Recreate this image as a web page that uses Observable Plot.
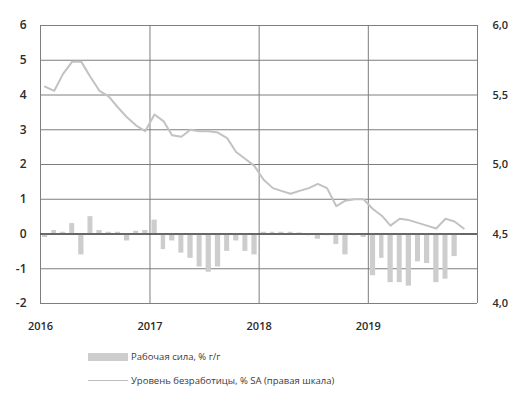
<!DOCTYPE html>
<html><head><meta charset="utf-8">
<script src="https://cdn.jsdelivr.net/npm/d3@7"></script>
<script src="https://cdn.jsdelivr.net/npm/@observablehq/plot@0.6"></script>
<style>
body{margin:0;background:#fff;font-family:"Open Sans",sans-serif;}
#chart svg{display:block;}
.leg{position:relative;height:63px;font-size:9.5px;color:#3a3a3a;}
.row{position:absolute;left:88px;display:flex;align-items:center;}
.sw{width:40px;margin-right:3px;}
</style></head><body>
<div id="chart"></div>
<div class="leg">
  <div class="row" style="top:10px;"><div class="sw" style="height:8px;background:#cdcdcd;"></div><span id="l1"></span></div>
  <div class="row" style="top:34px;"><div class="sw" style="height:1.5px;background:#bdbdbd;"></div><span id="l2"></span></div>
</div>
<script>
// Monthly, Jan 2016 .. Dec 2019
const startMonth = "2016-01-01";
const endMonth = "2020-01-01";
const seriesNames = ["Рабочая сила, % г/г", "Уровень безработицы, % SA (правая шкала)"];

// Labour force, % y/y (left axis)
const laborForce = [
  -0.1, 0.1, 0.05, 0.3, -0.6, 0.5, 0.1, 0.05, 0.05, -0.2, 0.08, 0.1,
  0.4, -0.45, -0.2, -0.55, -0.7, -0.95, -1.1, -0.95, -0.5, -0.2, -0.5, -0.6,
  0.05, 0.05, 0.05, 0.05, 0.03, -0.05, -0.15, -0.05, -0.3, -0.6, -0.05, -0.1,
  -1.2, -0.7, -1.4, -1.4, -1.5, -0.8, -0.85, -1.4, -1.3, -0.65, null, null
];
// Unemployment rate, % SA (right axis)
const unemployment = [
  5.56, 5.53, 5.65, 5.74, 5.74, 5.63, 5.53, 5.49, 5.41, 5.34, 5.28, 5.24,
  5.36, 5.31, 5.21, 5.20, 5.25, 5.24, 5.24, 5.23, 5.19, 5.09, 5.04, 4.99,
  4.89, 4.83, 4.81, 4.79, 4.81, 4.83, 4.86, 4.83, 4.70, 4.74, 4.75, 4.75,
  4.68, 4.63, 4.56, 4.61, 4.60, 4.58, 4.56, 4.54, 4.61, 4.59, 4.54
];

const leftTicks = [-2, -1, 0, 1, 2, 3, 4, 5, 6];
const rightTicks = [4.0, 4.5, 5.0, 5.5, 6.0];
const rightTickLabels = ["4,0", "4,5", "5,0", "5,5", "6,0"];
const yearTicks = ["2016", "2017", "2018", "2019"];

const months = d3.utcMonth.range(new Date(startMonth), new Date(endMonth));
const toLeft = r => (r - 4.5) * 4;
const rightLabel = new Map(rightTicks.map((r, i) => [toLeft(r), rightTickLabels[i]]));
const yearDates = yearTicks.map(y => new Date(y + "-01-01"));
const yearGrid = yearDates.concat([new Date(endMonth)]);

const bars = months.map((d, i) => ({date: d, value: laborForce[i]})).filter(d => d.value != null);
const line = unemployment.map((v, i) => ({date: d3.utcDay.offset(months[i], 15), value: v}));

const chart = Plot.plot({
  width: 514, height: 340,
  marginTop: 25, marginBottom: 37, marginLeft: 40, marginRight: 37,
  style: {fontFamily: "'Open Sans', sans-serif", color: "#2a2a2a", background: "#fff"},
  x: {type: "utc", domain: [new Date(startMonth), new Date(endMonth)], label: null},
  y: {domain: [-2, 6], label: null},
  marks: [
    Plot.gridY(leftTicks, {stroke: "#7e7e7e", strokeOpacity: 1}),
    Plot.gridX(yearGrid, {stroke: "#7e7e7e", strokeOpacity: 1}),
    Plot.rectY(bars, {x: "date", y: "value", interval: "month", insetLeft: 2, insetRight: 2, fill: "#cdcdcd"}),
    Plot.ruleY([0], {stroke: "#4a4a4a", strokeWidth: 1.5}),
    Plot.lineY(line, {x: "date", y: d => toLeft(d.value), stroke: "#c2c2c2", strokeWidth: 2}),
    Plot.axisY(leftTicks, {anchor: "left", tickSize: 0, tickPadding: 14, fontSize: 12, fontWeight: 600, tickFormat: d => String(d)}),
    Plot.axisY(rightTicks.map(toLeft), {anchor: "right", tickSize: 0, tickPadding: 15, fontSize: 11, fontWeight: 600, tickFormat: d => rightLabel.get(d)}),
    Plot.axisX(yearDates, {anchor: "bottom", tickSize: 0, tickPadding: 19, fontSize: 11, fontWeight: 600, tickFormat: d => String(d.getUTCFullYear())})
  ]
});
document.getElementById("chart").append(chart);
document.getElementById("l1").textContent = seriesNames[0];
document.getElementById("l2").textContent = seriesNames[1];
</script>
</body></html>
